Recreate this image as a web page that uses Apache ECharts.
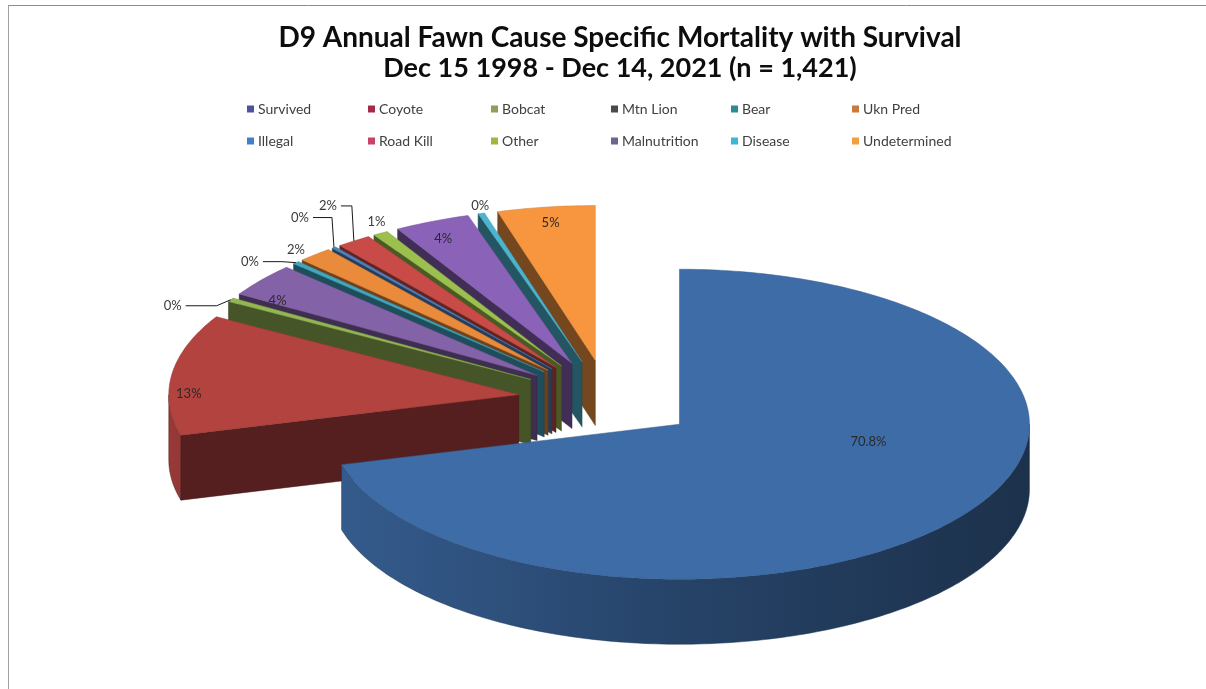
<!DOCTYPE html>
<html>
<head>
<meta charset="utf-8">
<script src="https://cdn.jsdelivr.net/npm/echarts@6/dist/echarts.min.js"></script>
<style>
  html, body { margin: 0; padding: 0; background: #ffffff; }
  #chart { width: 1206px; height: 689px; }
</style>
</head>
<body>
<div id="chart"></div>
<script>
// ---- data ----
const titleLines = [
  'D9 Annual Fawn Cause Specific Mortality with Survival',
  'Dec 15 1998 - Dec 14, 2021 (n = 1,421)'
];
const categories = ['Survived', 'Coyote', 'Bobcat', 'Mtn Lion', 'Bear', 'Ukn Pred',
                    'Illegal', 'Road Kill', 'Other', 'Malnutrition', 'Disease', 'Undetermined'];
// share of collared fawns, percent
const percentValues = [70.8, 12.6, 0.4, 3.5, 0.3, 1.6, 0.2, 1.6, 0.7, 3.5, 0.3, 4.5];

// ---- styling ----
const sliceColors = ['#3e6ca7', '#b2433f', '#93b552', '#8462a8', '#40a6c1', '#e98b3b',
                     '#4f81bd', '#c94b48', '#9cc04e', '#8a62b8', '#4bb5d0', '#f7963f'];
const legendColors = ['#4b52a0', '#a62a4c', '#8e9f5a', '#4a4a4a', '#2b8c99', '#c87a3e',
                      '#3f7fcf', '#c8436a', '#9db83a', '#6e6494', '#3bb8d4', '#f0a040'];
const FONT = 'Lato, "Open Sans", sans-serif';

// 3-D pie projection
const CX = 608, CY = 400;     // pie centre before explosion
const RX = 350, RY = 155;     // ellipse radii of the top face
const DEPTH = 65;             // thickness of the disc
const EXPLODE = 90;           // distance each slice is pulled out
const K = RY / RX;

const total = percentValues.reduce((a, b) => a + b, 0);
const startPct = [];
percentValues.reduce((acc, v, i) => { startPct[i] = acc; return acc + v; }, 0);

// label nudges (label centre relative to the rim point of its slice)
const outsideLabelOffset = {
  'Bobcat': [-58, 6, true], 'Bear': [-46, -1, true], 'Illegal': [-34, -30, true],
  'Road Kill': [-26, -35, true], 'Ukn Pred': [-19, -5, false],
  'Other': [-4, -11, false], 'Disease': [-1, -8, false]
};

function shade(hex, f) {
  const n = parseInt(hex.slice(1), 16);
  const r = Math.min(255, Math.round(((n >> 16) & 255) * f));
  const g = Math.min(255, Math.round(((n >> 8) & 255) * f));
  const b = Math.min(255, Math.round((n & 255) * f));
  return 'rgb(' + r + ',' + g + ',' + b + ')';
}

function renderSlice(idx) {
  return function (params, api) {
    const value = api.value(0);
    const a0 = startPct[idx] / total * 360;
    const a1 = a0 + value / total * 360;
    const mid = (a0 + a1) / 2;
    const rad = d => d * Math.PI / 180;
    const sm = Math.sin(rad(mid)), cm = Math.cos(rad(mid));
    const ax = CX + EXPLODE * sm, ay = CY - EXPLODE * K * cm;
    const P = (deg, r, h) => [ax + r * RX * Math.sin(rad(deg)), ay - r * RY * Math.cos(rad(deg)) + h * DEPTH];
    const arc = (from, to, h) => {
      const pts = [];
      const n = Math.max(2, Math.ceil(Math.abs(to - from)));
      for (let s = 0; s <= n; s++) pts.push(P(from + (to - from) * s / n, 1, h));
      return pts;
    };
    const base = sliceColors[idx];
    // back slices first (last category first), the large front slice last
    const rank = idx === 0 ? 50 : categories.length - idx;
    const children = [];

    // outer wall, front half only
    const w0 = Math.max(a0, 90), w1 = Math.min(a1, 270);
    if (w1 > w0) {
      const pts = arc(w0, w1, 0).concat(arc(w1, w0, 1));
      children.push({
        type: 'polygon', z2: rank * 10 + 1,
        shape: { points: pts },
        style: {
          fill: new echarts.graphic.LinearGradient(ax - RX, 0, ax + RX, 0, [
            { offset: 0, color: shade(base, 0.85) },
            { offset: 0.5, color: shade(base, 0.62) },
            { offset: 1, color: shade(base, 0.45) }
          ], true),
          stroke: shade(base, 0.5), lineWidth: 0.5
        }
      });
    }
    // radial face on the leading edge
    if (Math.sin(rad(a0)) < 0) {
      const o0 = P(a0, 1, 0), o1 = P(a0, 1, 1);
      children.push({
        type: 'polygon', z2: rank * 10 + 2,
        shape: { points: [[ax, ay], o0, o1, [ax, ay + DEPTH]] },
        style: { fill: shade(base, 0.47), stroke: shade(base, 0.4), lineWidth: 0.5 }
      });
    }
    // radial face on the trailing edge
    if (Math.sin(rad(a1)) > 0) {
      const o0 = P(a1, 1, 0), o1 = P(a1, 1, 1);
      children.push({
        type: 'polygon', z2: rank * 10 + 2,
        shape: { points: [[ax, ay], o0, o1, [ax, ay + DEPTH]] },
        style: { fill: shade(base, 0.5) }
      });
    }
    // top face
    children.push({
      type: 'polygon', z2: rank * 10 + 5,
      shape: { points: [[ax, ay]].concat(arc(a0, a1, 0)) },
      style: { fill: base, stroke: shade(base, 0.85), lineWidth: 0.5 }
    });

    // value label
    const pctText = (idx === 0 ? value.toFixed(1) : Math.round(value)) + '%';
    const name = categories[idx];
    let lx, ly;
    if (outsideLabelOffset[name]) {
      const rim = P(mid, 1, 0);
      const off = outsideLabelOffset[name];
      lx = rim[0] + off[0]; ly = rim[1] + off[1];
      if (off[2]) {
        const startX = lx + 13;
        const elbowX = off[1] < -15 ? rim[0] - 2 : rim[0] - 14;
        children.push({
          type: 'polyline', z2: 9000,
          shape: { points: [[startX, ly], [elbowX, ly], rim] },
          style: { stroke: '#1a1a1a', lineWidth: 1, fill: null }
        });
      }
    } else if (idx === 0) {
      lx = ax + 0.68 * RX * sm;
      ly = ay - 0.19 * RY * cm;
    } else {
      // inside labels sit near the rim, leaning toward the viewer on the left
      lx = ax + 0.9 * RX * sm + 18 * sm * Math.abs(sm);
      ly = ay - 0.9 * RY * cm + 18 * sm * sm;
    }
    children.push({
      type: 'text', z2: 10000,
      style: {
        text: pctText, x: lx, y: ly, align: 'center', verticalAlign: 'middle',
        fill: outsideLabelOffset[name] ? '#3a3a3a' : '#2a2a2a',
        font: '13px ' + FONT
      }
    });
    return { type: 'group', children: children };
  };
}

// legend: two rows of six fixed columns
const legendCols = [247, 368, 491, 611, 731, 852];
const legendRows = [102, 134];
const legends = categories.map((name, i) => ({
  left: legendCols[i % 6], top: legendRows[Math.floor(i / 6)],
  orient: 'horizontal', padding: 0,
  icon: 'rect', itemWidth: 7, itemHeight: 7, itemGap: 0,
  selectedMode: false,
  textStyle: { fontFamily: FONT, fontSize: 14, color: '#404040', padding: [0, 0, 0, -1] },
  data: [{ name: name, itemStyle: { color: legendColors[i] } }]
}));

const chart = echarts.init(document.getElementById('chart'), null, { renderer: 'canvas' });
chart.setOption({
  animation: false,
  backgroundColor: '#ffffff',
  title: {
    text: '{a|' + titleLines[0] + '}\n{b|' + titleLines[1] + '}',
    left: 615, top: 17, textAlign: 'center',
    textStyle: {
      rich: {
        a: { fontFamily: FONT, fontWeight: 'bold', fontSize: 28, lineHeight: 31, color: '#0d0d0d', align: 'center' },
        b: { fontFamily: FONT, fontWeight: 'bold', fontSize: 27, lineHeight: 31, color: '#0d0d0d', align: 'center' }
      }
    }
  },
  legend: legends,
  graphic: [
    { type: 'line', shape: { x1: 8, y1: 5.5, x2: 1206, y2: 5.5 }, style: { stroke: '#8c8c8c', lineWidth: 1 }, silent: true },
    { type: 'line', shape: { x1: 8.5, y1: 5, x2: 8.5, y2: 689 }, style: { stroke: '#a0a0a0', lineWidth: 1 }, silent: true }
  ],
  series: categories.map((name, i) => ({
    type: 'custom', name: name, coordinateSystem: 'none',
    itemStyle: { color: legendColors[i] },
    data: [percentValues[i]],
    renderItem: renderSlice(i)
  }))
});
</script>
</body>
</html>
